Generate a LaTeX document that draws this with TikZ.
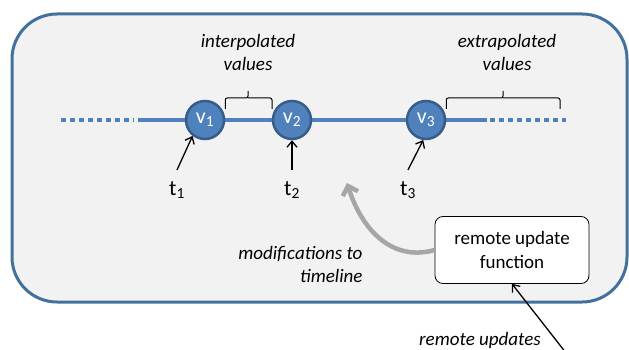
\documentclass[tikz,border=0pt]{standalone}
\usepackage{fontspec}
\setmainfont{Carlito}
\usetikzlibrary{arrows.meta}
\definecolor{frameblue}{HTML}{41719C}
\definecolor{lineblue}{HTML}{4F81BD}
\definecolor{ringblue}{HTML}{385D8A}
\definecolor{panelgray}{HTML}{F2F2F2}
\definecolor{arrowgray}{HTML}{A6A6A6}
\begin{document}
\begin{tikzpicture}[x=1pt,y=-1pt,
    value/.style={circle,fill=lineblue,draw=ringblue,line width=2.5pt,
      minimum size=38pt,inner sep=0pt,text=white,font=\fontsize{22}{22}\selectfont},
    stamp/.style={font=\fontsize{22}{22}\selectfont},
    note/.style={font=\fontsize{19}{23}\selectfont\itshape,align=center},
    pointer/.style={line width=1.3pt,-{Straight Barb[length=6pt,width=10pt]}},
    track/.style={lineblue,line width=4pt}]
    \useasboundingbox (0,0) rectangle (629,350);
    \draw[frameblue,fill=panelgray,line width=3pt,rounded corners=45pt]
    (12,14) rectangle (627,302);
    % timeline
    \draw[track,dash pattern=on 5pt off 4pt] (61,120) -- (134,120);
    \draw[track] (138,120) -- (487,120);
    \draw[track,dash pattern=on 5pt off 4pt] (490,120) -- (566,120);
    \foreach \x/\n in {205/1,292/2,426/3}{
    \node[value] (v\n) at (\x,120) {v\textsubscript{\n}};}
    \foreach \x/\n in {177/1,292/2,408/3}{
    \node[stamp] (t\n) at (\x,190) {t\textsubscript{\n}};}
    \draw[pointer] ([yshift=8pt]t1.north) -- (v1.232);
    \draw[pointer] ([yshift=8pt]t2.north) -- (v2.south);
    \draw[pointer] ([yshift=8pt]t3.north) -- (v3.262);
    % brackets
    \draw[line width=1pt,rounded corners=2pt]
    (v1.east) ++(0,-11) coordinate (ia) |- (248,98) -- (248,91)
    (248,98) -| (272,109) coordinate (ib);
    \draw[line width=1pt,rounded corners=2pt]
    (v3.east) ++(0,-11) coordinate (ea) |- (503,98) -- (503,91)
    (503,98) -| (560,109) coordinate (eb);
    \node[note] (inter) at (248,52) {interpolated\\values};
    \node[note] (extra) at (507,52) {extrapolated\\values};
    % remote side
    \node[draw,line width=0.8pt,fill=white,rounded corners=8pt,minimum width=154pt,
    minimum height=67pt,align=center,font=\fontsize{19}{24}\selectfont]
    (remote) at (512,250) {remote update\\function};
    \coordinate (landing) at (347,183);
    \draw[arrowgray,line width=4.5pt,-{Straight Barb[length=8pt,width=16pt]}]
    (remote.west) .. controls (392,262) and (362,230) .. (landing);
    \node[note,align=right,anchor=east] (mods) at (366,264) {modifications to\\timeline};
    \node[note] (upd) at (480,340) {remote updates};
    \coordinate (far) at (570,358);
    \draw[pointer] (far) -- (remote.south);
\end{tikzpicture}
\end{document}
